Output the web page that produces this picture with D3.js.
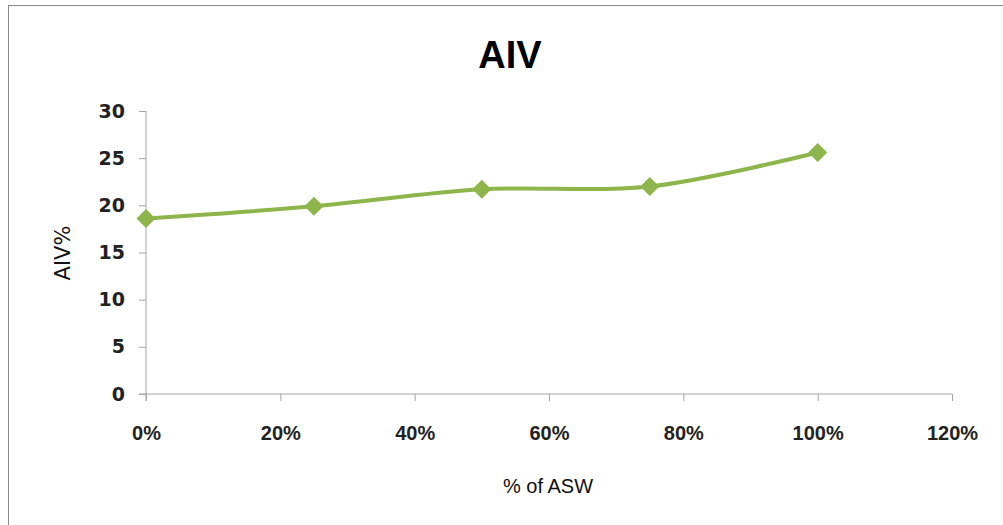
<!DOCTYPE html>
<html><head><meta charset="utf-8">
<script src="https://cdn.jsdelivr.net/npm/d3@7"></script>
<style>body{margin:0;background:#fff}svg{display:block}</style>
</head><body>
<svg id="c" width="1003" height="525"></svg>
<script>
const xValues = [0, 0.25, 0.5, 0.75, 1.0];
const aivValues = [18.6, 19.9, 21.7, 22.0, 25.6];
const xTicks = [0, 0.2, 0.4, 0.6, 0.8, 1.0, 1.2];
const yTicks = [0, 5, 10, 15, 20, 25, 30];
const titleText = "AIV";
const xTitle = "% of ASW";
const yTitle = "AIV%";

const svg = d3.select("#c");
svg.append("rect").attr("x", 8.5).attr("y", 5.5).attr("width", 1010).attr("height", 530)
  .attr("fill", "none").attr("stroke", "#888").attr("stroke-width", 1);

const x = d3.scaleLinear().domain([0, 1.2]).range([146, 952]);
const y = d3.scaleLinear().domain([0, 30]).range([394, 111]);
const axisColor = "#a6a6a6";

// y axis
const ya = svg.append("g").attr("transform", "translate(146,0)")
  .call(d3.axisLeft(y).tickValues(yTicks).tickSize(7).tickPadding(14).tickFormat(d3.format("d")));
ya.select(".domain").attr("stroke", axisColor).attr("d", `M0,${y(30)}V${y(0)+7}`);
ya.selectAll(".tick line").attr("stroke", axisColor);
ya.selectAll("text").attr("font-family", "DejaVu Sans").attr("font-weight", "bold")
  .attr("font-size", 19).attr("fill", "#222");

// x axis
const xa = svg.append("g").attr("transform", "translate(0,394)")
  .call(d3.axisBottom(x).tickValues(xTicks).tickSize(7).tickPadding(25).tickFormat(d3.format(".0%")));
xa.select(".domain").attr("stroke", axisColor).attr("d", `M${x(0)-7},0H${x(1.2)}`);
xa.selectAll(".tick line").attr("stroke", axisColor);
xa.selectAll("text").attr("font-family", "Liberation Sans").attr("font-weight", "bold")
  .attr("font-size", 20).attr("fill", "#222");

// line
const data = xValues.map((v, i) => ({x: v, y: aivValues[i]}));
const line = d3.line().x(d => x(d.x)).y(d => y(d.y)).curve(d3.curveCardinal.tension(0));
svg.append("path").datum(data).attr("d", line).attr("fill", "none")
  .attr("stroke", "#8db54b").attr("stroke-width", 4);
svg.selectAll(".m").data(data).enter().append("path")
  .attr("transform", d => `translate(${x(d.x)},${y(d.y)})`)
  .attr("d", d3.symbol().type(d3.symbolDiamond2).size(230))
  .attr("fill", "#8db54b");

// titles
svg.append("text").attr("x", 510).attr("y", 68).attr("text-anchor", "middle")
  .attr("font-family", "Liberation Sans").attr("font-weight", "bold").attr("font-size", 38)
  .attr("fill", "#000").text(titleText);
svg.append("text").attr("x", 548).attr("y", 493).attr("text-anchor", "middle")
  .attr("font-family", "Liberation Sans").attr("font-size", 20)
  .attr("fill", "#111").text(xTitle);
svg.append("text").attr("transform", "translate(70,253) rotate(-90)").attr("text-anchor", "middle")
  .attr("font-family", "DejaVu Sans").attr("font-size", 21)
  .attr("fill", "#111").text(yTitle);
</script>
</body></html>
